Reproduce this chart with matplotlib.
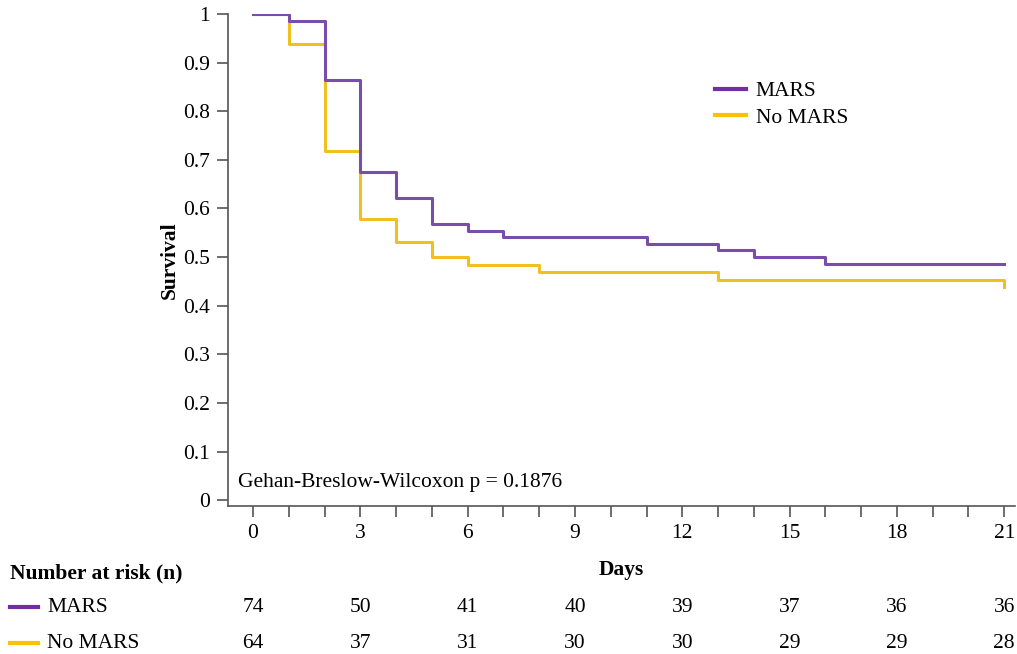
import matplotlib
matplotlib.use("Agg")
import matplotlib.pyplot as plt
from matplotlib.lines import Line2D
from matplotlib.transforms import blended_transform_factory

plt.rcParams['font.family'] = ['Liberation Serif', 'DejaVu Serif']

# Data
mars_days = [0, 1, 2, 3, 4, 5, 6, 7, 11, 13, 14, 16, 21]
mars_surv = [1.0, 0.986, 0.865, 0.676, 0.622, 0.568, 0.554, 0.541, 0.527, 0.514, 0.500, 0.486, 0.486]
nomars_days = [0, 1, 2, 3, 4, 5, 6, 8, 13, 21]
nomars_surv = [1.0, 0.938, 0.719, 0.578, 0.531, 0.500, 0.484, 0.469, 0.453, 0.438]

risk_days = [0, 3, 6, 9, 12, 15, 18, 21]
risk_mars = [74, 50, 41, 40, 39, 37, 36, 36]
risk_nomars = [64, 37, 31, 30, 30, 29, 29, 28]

c_mars = '#7030A0'
c_nomars = '#FFC000'

FS = 15.5

fig = plt.figure(figsize=(10.17, 6.54), dpi=100)
ax = fig.add_axes([228/1017, 1-506/654, (1015-228)/1017, (506-14)/654])

ax.step(nomars_days, nomars_surv, where='post', color='#F0C020', lw=2.2)
ax.step(mars_days, mars_surv, where='post', color='#7B4DAA', lw=2.2)

ax.set_xlim(-0.7, 21.3)
ax.set_ylim(-0.012, 1.0)
ax.spines['top'].set_visible(False)
ax.spines['right'].set_visible(False)
for s in ['left', 'bottom']:
    ax.spines[s].set_color('#555555')
    ax.spines[s].set_linewidth(1.2)

ax.set_yticks([i/10 for i in range(11)])
ax.set_yticklabels(['0', '0.1', '0.2', '0.3', '0.4', '0.5', '0.6', '0.7', '0.8', '0.9', '1'])
ax.set_xticks(risk_days)
ax.set_xticks(range(0, 22), minor=True)
ax.tick_params(axis='both', which='both', colors='#555555', labelcolor='black', labelsize=FS, length=8, width=1.2)
ax.tick_params(axis='x', which='both', pad=5)
ax.tick_params(axis='y', pad=5)

ax.set_ylabel('Survival', fontsize=FS, fontweight='bold', labelpad=2)
ax.set_xlabel('Days', fontsize=FS, fontweight='bold', labelpad=12)

fig.text(238/1017, 1-482/654, 'Gehan-Breslow-Wilcoxon p = 0.1876', fontsize=FS, va='center', ha='left')

handles = [Line2D([0], [0], color=c_mars, lw=3), Line2D([0], [0], color=c_nomars, lw=3)]
ax.legend(handles, ['MARS', 'No MARS'], loc='upper left', bbox_to_anchor=(715/1017, 1-81/654),
          bbox_transform=fig.transFigure, frameon=False, fontsize=FS, handlelength=1.45,
          handletextpad=0.45, labelspacing=0.3, borderaxespad=0, borderpad=0)

# Risk table
fig.text(10/1017, 1-573/654, 'Number at risk (n)', fontsize=FS, fontweight='bold', va='center', ha='left')
fig.add_artist(Line2D([10/1017, 38/1017], [1-607/654, 1-607/654], color=c_mars, lw=3))
fig.add_artist(Line2D([10/1017, 38/1017], [1-643/654, 1-643/654], color=c_nomars, lw=3))
fig.text(47/1017, 1-607/654, 'MARS', fontsize=FS, va='center', ha='left')
fig.text(47/1017, 1-643/654, 'No MARS', fontsize=FS, va='center', ha='left')

tr = blended_transform_factory(ax.transData, fig.transFigure)
for d, n in zip(risk_days, risk_mars):
    ax.text(d, 1-607/654, str(n), transform=tr, fontsize=FS, ha='center', va='center', clip_on=False)
for d, n in zip(risk_days, risk_nomars):
    ax.text(d, 1-643/654, str(n), transform=tr, fontsize=FS, ha='center', va='center', clip_on=False)

fig.savefig('out.png', dpi=100)
